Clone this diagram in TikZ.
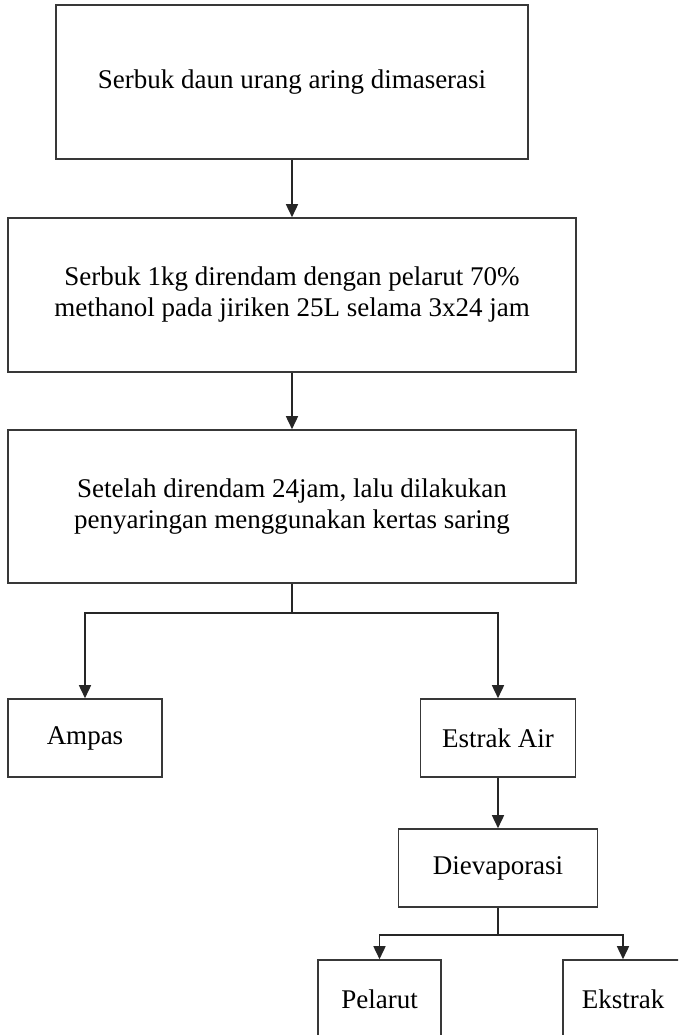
\documentclass[tikz,border=0pt]{standalone}
\usepackage{fontspec}
\setmainfont{Liberation Serif}
\usetikzlibrary{arrows.meta}
\begin{document}
\begin{tikzpicture}[x=1pt,y=-1pt,
  box/.style={draw=black!78, line width=1.6pt, rectangle, inner sep=0pt,
              align=center, font=\fontsize{27}{31}\selectfont},
  link/.style={draw=black!85, line width=1.6pt},
  arr/.style={link, -{Triangle[width=12pt,length=13pt]}}]
\useasboundingbox (0,0) rectangle (678,1035);
\fill[white] (0,0) rectangle (678,1035);
\clip (0,0) rectangle (678,1035);

% main column
\node[box, minimum width=472pt, minimum height=154pt] (b1) at (292,82)
  {Serbuk daun urang aring dimaserasi};
\node[box, minimum width=568pt, minimum height=154pt] (b2) at (292,295)
  {Serbuk 1kg direndam dengan pelarut 70\%\\methanol pada jiriken 25L selama 3x24 jam};
\node[box, minimum width=568pt, minimum height=153pt] (b3) at (292,506.5)
  {Setelah direndam 24jam, lalu dilakukan\\penyaringan menggunakan kertas saring};

% first split
\node[box, minimum width=154pt, minimum height=78pt] (ampas) at (85,738) {Ampas};
\node[box, minimum width=155pt, minimum height=78pt] (air) at (498,738) {Estrak Air};
\node[box, minimum width=199pt, minimum height=78pt] (evap) at (498,868) {Dievaporasi};

% second split (boxes run past the lower edge)
\node[box, minimum width=123pt, minimum height=78pt] (pelarut) at (379.5,999) {Pelarut};
\node[box, minimum width=120pt, minimum height=78pt] (ekstrak) at (623,999) {Ekstrak};

% connectors
\draw[arr] (b1.south) -- (b2.north);
\draw[arr] (b2.south) -- (b3.north);
\draw[link] (b3.south) -- (292,613) coordinate (j1);
\draw[arr] (j1) -| (ampas.north);
\draw[arr] (j1) -| (air.north);
\draw[arr] (air.south) -- (evap.north);
\draw[link] (evap.south) -- (498,935) coordinate (j2);
\draw[arr] (j2) -| (pelarut.north);
\draw[arr] (j2) -| (ekstrak.north);
\end{tikzpicture}
\end{document}
